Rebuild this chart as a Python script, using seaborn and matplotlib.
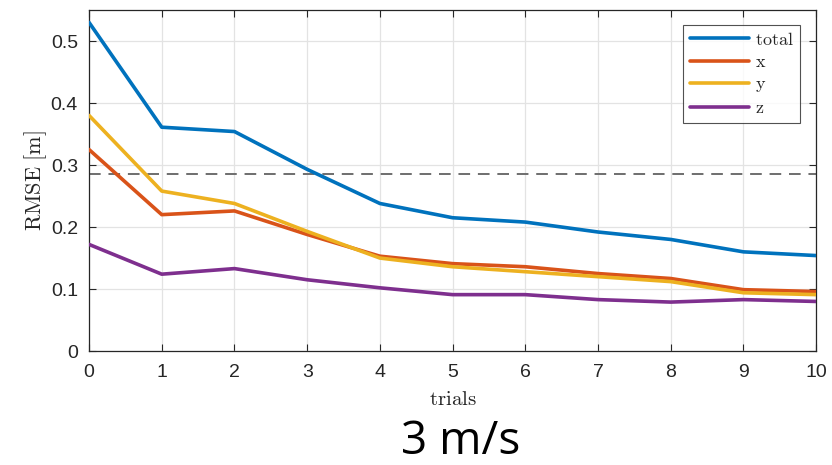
import matplotlib
matplotlib.use("Agg")
import matplotlib.pyplot as plt
import seaborn as sns
import pandas as pd
import numpy as np

trials = [0, 1, 2, 3, 4, 5, 6, 7, 8, 9, 10]
rmse_total = [0.530, 0.361, 0.354, 0.293, 0.238, 0.215, 0.208, 0.192, 0.180, 0.160, 0.154]
rmse_x = [0.325, 0.220, 0.226, 0.188, 0.153, 0.141, 0.136, 0.125, 0.117, 0.099, 0.096]
rmse_y = [0.380, 0.258, 0.238, 0.193, 0.150, 0.136, 0.128, 0.120, 0.112, 0.094, 0.091]
rmse_z = [0.172, 0.124, 0.133, 0.115, 0.102, 0.091, 0.091, 0.083, 0.079, 0.083, 0.080]
threshold = 0.285
series_names = ["total", "x", "y", "z"]
colors = ["#0072BD", "#D95319", "#EDB120", "#7E2F8E"]
yticks = [0, 0.1, 0.2, 0.3, 0.4, 0.5]
ytick_labels = ["0", "0.1", "0.2", "0.3", "0.4", "0.5"]
xticks = trials
title_text = "3 m/s"

sns.set_style("white")
plt.rcParams["font.family"] = ["Liberation Sans", "DejaVu Sans"]
plt.rcParams["mathtext.fontset"] = "cm"

df = pd.DataFrame({
    "trials": trials * 4,
    "rmse": rmse_total + rmse_x + rmse_y + rmse_z,
    "series": sum([[n] * len(trials) for n in series_names], []),
})

fig = plt.figure(figsize=(8.32, 4.65), dpi=100)
ax = fig.add_axes([0.107, 0.245, 0.874, 0.7335])

ax.axhline(threshold, color="#6e6e6e", linestyle=(0, (6, 4)), linewidth=1.4, zorder=1)
sns.lineplot(data=df, x="trials", y="rmse", hue="series", hue_order=series_names,
             palette=colors, linewidth=2.6, ax=ax, zorder=3)

ax.set_xlim(0, 10)
ax.set_ylim(0, 0.55)
ax.set_xticks(xticks)
ax.set_xticklabels([str(t) for t in xticks])
ax.set_yticks(yticks)
ax.set_yticklabels(ytick_labels)
ax.grid(True, color="#e3e3e3", linewidth=0.9, zorder=0)
ax.set_axisbelow(True)
ax.tick_params(direction="in", length=5, width=0.8, colors="#262626",
               labelsize=14, top=True, right=True, bottom=True, left=True,
               labeltop=False, labelright=False)
ax.tick_params(axis="x", pad=9)
ax.tick_params(axis="y", pad=8)
for sp in ax.spines.values():
    sp.set_color("#262626")
    sp.set_linewidth(0.9)

ax.set_xlabel(r"$\mathrm{trials}$", fontsize=15, color="#262626", labelpad=7)
ax.set_ylabel(r"$\mathrm{RMSE\ [m]}$", fontsize=16, color="#262626", labelpad=1)

handles, labels = ax.get_legend_handles_labels()
leg = ax.legend(handles, [r"$\mathrm{%s}$" % l for l in labels],
                loc="upper right", bbox_to_anchor=(0.9775, 0.955), borderaxespad=0,
                frameon=True, fancybox=False, edgecolor="#262626", handlelength=3.3,
                borderpad=0.35, labelspacing=0.3, handletextpad=0.3,
                fontsize=13)
leg.get_frame().set_linewidth(0.8)
for line in leg.get_lines():
    line.set_linewidth(2.6)

fig.text(0.5535, 0.0, title_text, fontsize=33, family="Open Sans",
         ha="center", va="bottom", color="black")

fig.savefig("out.png", dpi=100)
